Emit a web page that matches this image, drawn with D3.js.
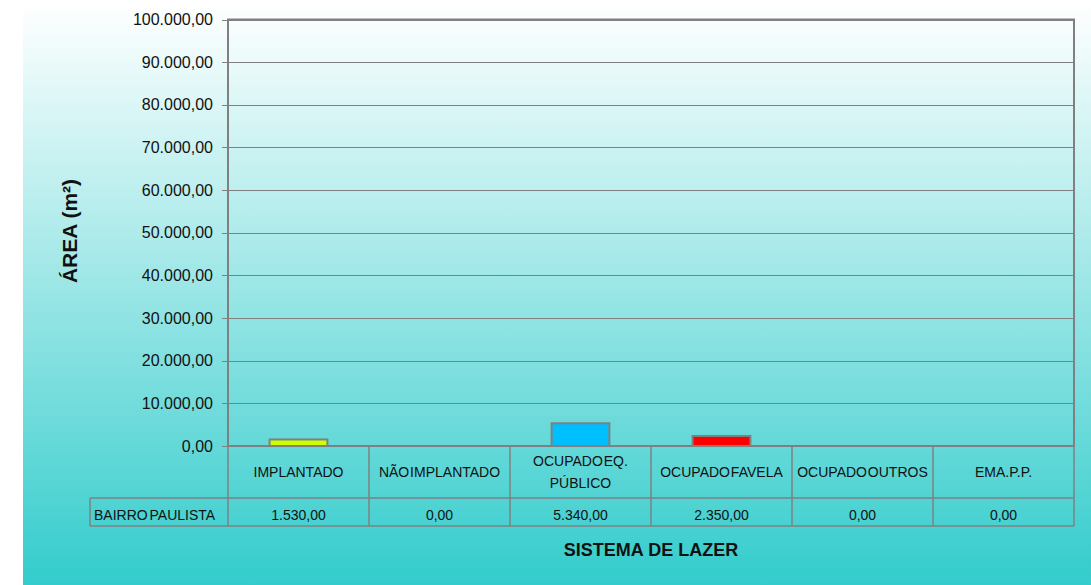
<!DOCTYPE html>
<html>
<head>
<meta charset="utf-8">
<script src="https://cdn.jsdelivr.net/npm/d3@7.9.0/dist/d3.min.js"></script>
<style>
  body { margin: 0; background: #fff; }
  svg { display: block; font-family: "Liberation Sans", Arial, sans-serif; }
</style>
</head>
<body>
<svg width="1091" height="585"></svg>
<script>
const categories = ["IMPLANTADO", "NÃO IMPLANTADO", "OCUPADO EQ. PÚBLICO", "OCUPADO FAVELA", "OCUPADO OUTROS", "EM A.P.P."];
const categoryLines = [["IMPLANTADO"], ["NÃO IMPLANTADO"], ["OCUPADO EQ.", "PÚBLICO"], ["OCUPADO FAVELA"], ["OCUPADO OUTROS"], ["EM A.P.P."]];
const values = [1530, 0, 5340, 2350, 0, 0];
const barColors = ["#ccff00", "#ccff00", "#00bfff", "#ff0000", "#ccff00", "#ccff00"];
const seriesName = "BAIRRO PAULISTA";
const yTicks = [0, 10000, 20000, 30000, 40000, 50000, 60000, 70000, 80000, 90000, 100000];

const fmt = v => {
  let s = v.toFixed(2).split(".");
  let int = s[0].replace(/\B(?=(\d{3})+(?!\d))/g, ".");
  return int + "," + s[1];
};

const svg = d3.select("svg");

// background gradient
const defs = svg.append("defs");
const grad = defs.append("linearGradient").attr("id", "bg").attr("x1", 0).attr("y1", 0).attr("x2", 0).attr("y2", 1);
grad.append("stop").attr("offset", "0%").attr("stop-color", "#ffffff");
grad.append("stop").attr("offset", "100%").attr("stop-color", "#33cccc");
svg.append("rect").attr("x", 23).attr("y", 4).attr("width", 1068).attr("height", 581).attr("fill", "url(#bg)");

const pLeft = 228, pRight = 1074, pTop = 19.5, pBottom = 446;
const x = d3.scaleBand().domain(categories).range([pLeft, pRight]);
const y = d3.scaleLinear().domain([0, 100000]).range([pBottom, pTop]);

// gridlines
svg.append("g").selectAll("line").data(yTicks).join("line")
  .attr("x1", pLeft - 6).attr("x2", pRight)
  .attr("y1", d => Math.round(y(d)) + 0.5).attr("y2", d => Math.round(y(d)) + 0.5)
  .attr("stroke", "#808080").attr("stroke-width", 1);

// y tick labels
svg.append("g").selectAll("text").data(yTicks).join("text")
  .attr("x", 213).attr("y", d => y(d) + 5.5)
  .attr("text-anchor", "end")
  .attr("font-size", 16).attr("fill", "#111")
  .text(d => fmt(d));

// plot frame
svg.append("rect").attr("x", pLeft).attr("y", pTop).attr("width", pRight - pLeft).attr("height", pBottom - pTop)
  .attr("fill", "none").attr("stroke", "#808080").attr("stroke-width", 2);

// bars
const bw = x.bandwidth() * 0.41;
svg.append("g").selectAll("rect").data(values).join("rect")
  .attr("x", (d, i) => x(categories[i]) + (x.bandwidth() - bw) / 2)
  .attr("y", d => y(d))
  .attr("width", bw)
  .attr("height", d => pBottom - y(d))
  .attr("fill", (d, i) => barColors[i])
  .attr("stroke", "#808080").attr("stroke-width", 2)
  .attr("display", d => d > 0 ? null : "none");

// data table
const rowTop = pBottom, rowMid = 498, rowBot = 526, labelLeft = 90;
const tg = svg.append("g").attr("stroke", "#808080").attr("stroke-width", 1.5);
tg.append("line").attr("x1", labelLeft).attr("x2", pRight).attr("y1", rowMid).attr("y2", rowMid);
tg.append("line").attr("x1", labelLeft).attr("x2", pRight).attr("y1", rowBot).attr("y2", rowBot);
tg.append("line").attr("x1", labelLeft).attr("x2", labelLeft).attr("y1", rowMid).attr("y2", rowBot);
tg.selectAll(".v").data(categories.concat(["end"])).join("line")
  .attr("x1", d => d === "end" ? pRight : x(d)).attr("x2", d => d === "end" ? pRight : x(d))
  .attr("y1", rowTop).attr("y2", rowBot);

// category labels
const cl = svg.append("g").attr("font-size", 14).attr("fill", "#111").attr("text-anchor", "middle")
  .attr("word-spacing", "-3");
categories.forEach((c, i) => {
  const lines = categoryLines[i];
  const cx = x(c) + x.bandwidth() / 2;
  const y0 = lines.length === 1 ? 477 : 466;
  lines.forEach((ln, j) => {
    cl.append("text").attr("x", cx).attr("y", y0 + j * 22).text(ln);
  });
});

// values row
svg.append("g").attr("font-size", 14).attr("fill", "#111").attr("text-anchor", "middle")
  .selectAll("text").data(values).join("text")
  .attr("x", (d, i) => x(categories[i]) + x.bandwidth() / 2)
  .attr("y", 520)
  .text(d => fmt(d));
svg.append("text").attr("x", 94).attr("y", 520).attr("font-size", 14).attr("fill", "#111")
  .attr("word-spacing", "-2").text(seriesName);

// axis titles
svg.append("text").attr("x", 651).attr("y", 556).attr("text-anchor", "middle")
  .attr("font-size", 18).attr("font-weight", "bold").attr("fill", "#111")
  .text("SISTEMA DE LAZER");
svg.append("text").attr("transform", "translate(77,231) rotate(-90)").attr("text-anchor", "middle")
  .attr("font-size", 21).attr("font-weight", "bold").attr("fill", "#111")
  .text("ÁREA (m²)");
</script>
</body>
</html>
